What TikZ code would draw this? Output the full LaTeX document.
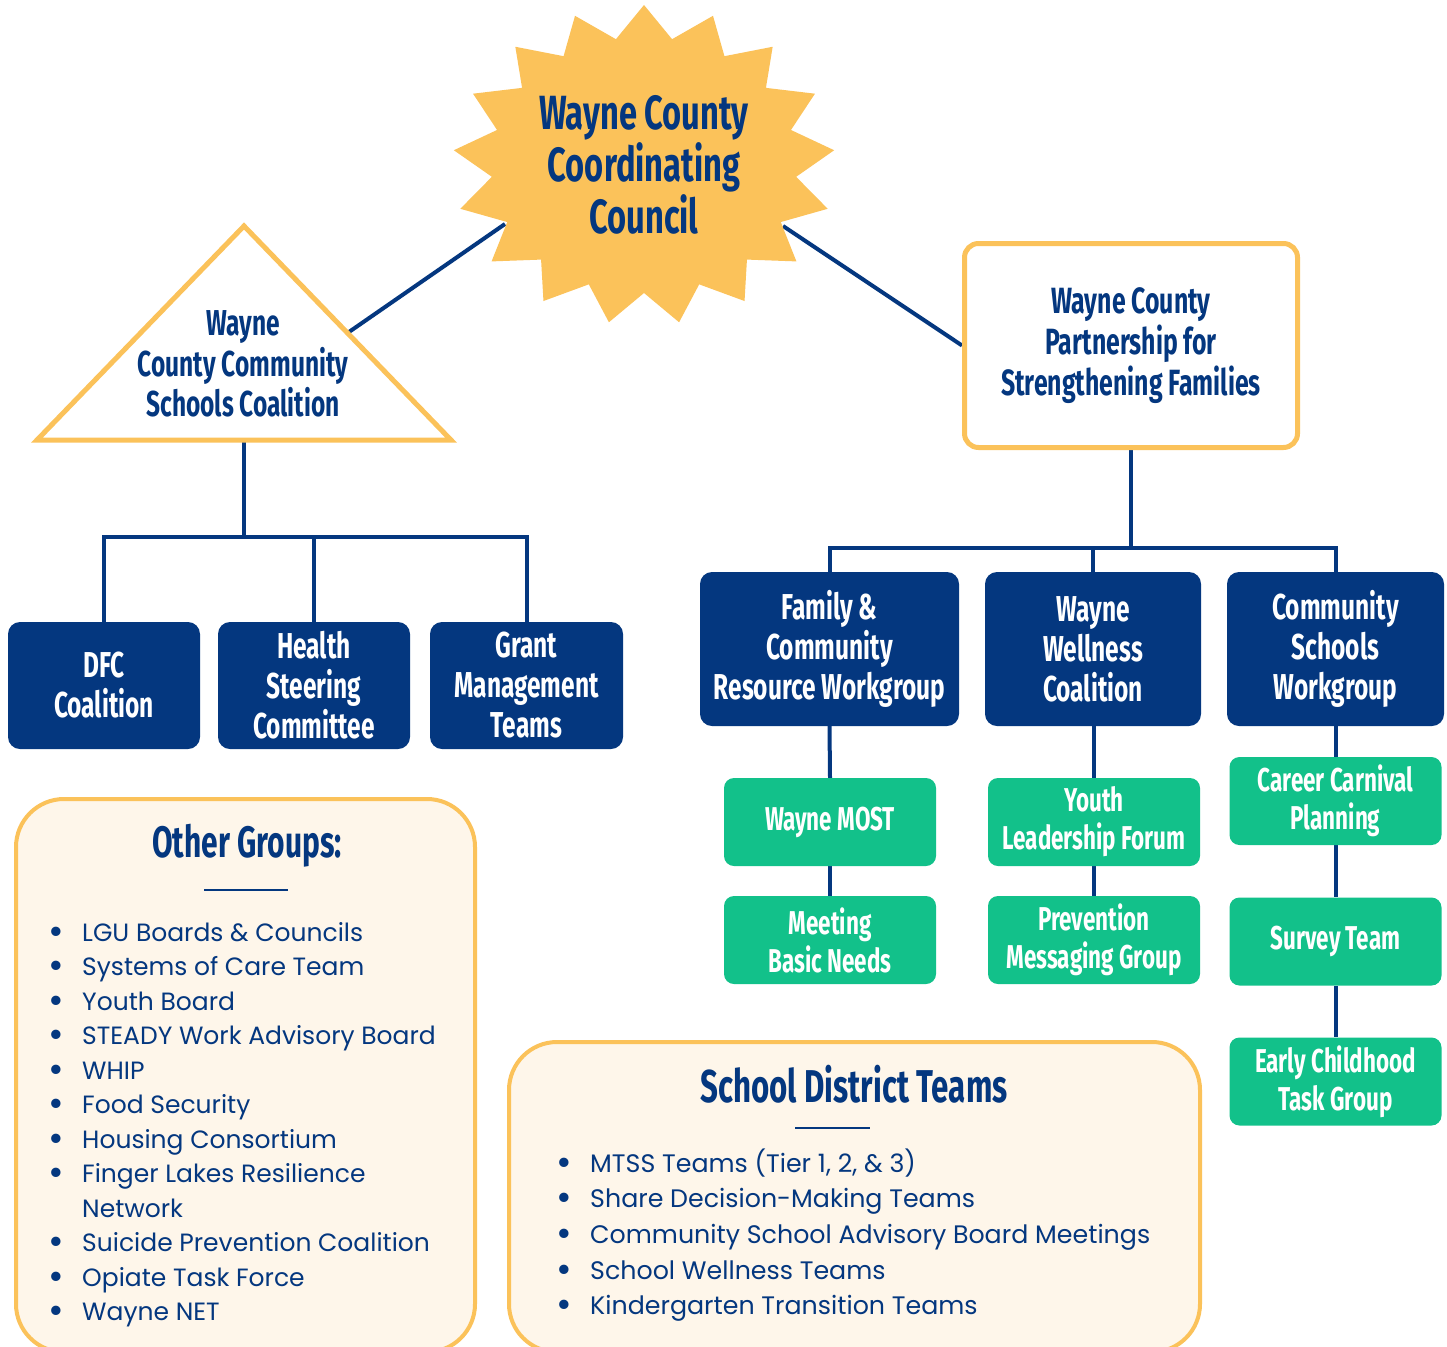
\documentclass[tikz,border=0pt]{standalone}
\usepackage{fontspec}
\setmainfont{Poppins}
\newfontfamily\headfont{Fira Sans}[FakeStretch=0.68]
\usetikzlibrary{calc,backgrounds}
\definecolor{navy}{HTML}{04377F}
\definecolor{mint}{HTML}{12C18A}
\definecolor{gold}{HTML}{FBC25A}
\definecolor{cream}{HTML}{FEF6EA}
\newcommand{\listdot}{\raisebox{-3pt}{\fontsize{38}{38}\selectfont •}}

\begin{document}
\begin{tikzpicture}[x=1pt,y=-1pt,
  conn/.style={draw=navy,line width=4pt},
  headtext/.style={text=navy,align=center,inner sep=0pt,font=\headfont\bfseries\fontsize{36}{40.5}\selectfont},
  navybox/.style={fill=navy,text=white,rounded corners=12pt,inner sep=0pt,minimum height=127pt,align=center,font=\headfont\bfseries\fontsize{36}{40}\selectfont},
  greenbox/.style={fill=mint,text=white,rounded corners=10pt,inner sep=0pt,minimum width=212pt,minimum height=88pt,align=center,font=\headfont\bfseries\fontsize{33}{38}\selectfont},
  goldbox/.style={draw=gold,line width=5pt,fill=white,rounded corners=14pt,inner sep=0pt,text=navy,align=center,font=\headfont\bfseries\fontsize{36.5}{41}\selectfont},
  listbox/.style={draw=gold,line width=4pt,fill=cream,rounded corners=48pt,inner sep=0pt},
  listtitle/.style={text=navy,inner sep=0pt,font=\headfont\bfseries\fontsize{44}{48}\selectfont},
  listtext/.style={text=navy,inner sep=0pt,align=left,font=\fontsize{25}{34.5}\selectfont},
]
\useasboundingbox (0,0) rectangle (1447,1346);

% council star
\coordinate (wccc) at (644,165);
\fill[gold,shift={(wccc)}] (-90:191 and 160)
  \foreach \i [evaluate=\i as \k using {1-0.2*mod(\i,2)}] in {1,...,33} { -- (-90+\i*360/34:{191*\k} and {160*\k}) } -- cycle;
\node[headtext,font=\headfont\bfseries\fontsize{48}{52}\selectfont] (wcccT) at (wccc) {Wayne County\\Coordinating\\Council};
\coordinate (wcccL) at (505,224);
\coordinate (wcccR) at (783,226);

% coalition triangle
\coordinate (triA) at (244,226);
\coordinate (triL) at (37,440);
\coordinate (triR) at (451,440);
\draw[gold,line width=5pt,fill=white] (triA) -- (triL) -- (triR) -- cycle;
\coordinate (triM) at ($(triA)!0.5!(triR)$);
\coordinate (triB) at ($(triL)!0.5!(triR)$);
\node[headtext] (wccsc) at (243,364) {Wayne\\County Community\\Schools Coalition};

\node[goldbox,minimum width=333pt,minimum height=204pt] (wcpsf) at (1131,345.5) {Wayne County\\Partnership for\\Strengthening Families};

% left branch
\node[navybox,minimum width=192pt] (dfc) at (104,685.5) {DFC\\Coalition};
\node[navybox,minimum width=192pt] (hsc) at (314,685.5) {Health\\Steering\\Committee};
\node[navybox,minimum width=193pt] (gmt) at (526.5,685.5) {Grant\\Management\\Teams};

% right branch
\node[navybox,minimum width=259pt,minimum height=154pt] (fcrw) at (829.5,649) {Family \&\\Community\\Resource Workgroup};
\node[navybox,minimum width=216pt,minimum height=154pt] (wwc) at (1093,649) {Wayne\\Wellness\\Coalition};
\node[navybox,minimum width=217pt,minimum height=154pt] (csw) at (1335.5,649) {Community\\Schools\\Workgroup};

\node[greenbox] (most) at (830,822) {Wayne MOST};
\node[greenbox] (mbn) at (830,940) {Meeting\\Basic Needs};
\node[greenbox] (ylf) at (1094,822) {Youth\\Leadership Forum};
\node[greenbox] (pmg) at (1094,940) {Prevention\\Messaging Group};
\node[greenbox] (ccp) at (1335.5,801) {Career Carnival\\Planning};
\node[greenbox] (svt) at (1335.5,941.5) {Survey Team};
\node[greenbox] (ectg) at (1335.5,1081.5) {Early Childhood\\Task Group};

% other groups
\node[listbox,minimum width=459pt,minimum height=553pt] (ogbox) at (245.5,1075.5) {};
\node[listtitle] (ogtitle) at (247,846) {Other Groups:};
\draw[navy,line width=2pt] (204,890) -- (288,890);
\node[listtext,anchor=base west] (oglist) at (48,941) {\begin{tabular}[t]{@{}p{34pt}@{}l@{}}
\listdot & LGU Boards \& Councils\\
\listdot & Systems of Care Team\\
\listdot & Youth Board\\
\listdot & STEADY Work Advisory Board\\
\listdot & WHIP\\
\listdot & Food Security\\
\listdot & Housing Consortium\\
\listdot & Finger Lakes Resilience\\
  & Network\\
\listdot & Suicide Prevention Coalition\\
\listdot & Opiate Task Force\\
\listdot & Wayne NET
\end{tabular}};

% school district teams
\node[listbox,minimum width=691pt,minimum height=310pt] (sdbox) at (854.5,1197) {};
\node[listtitle,font=\headfont\bfseries\fontsize{46}{50}\selectfont] (sdtitle) at (854,1084) {School District Teams};
\draw[navy,line width=2pt] (795,1128) -- (870,1128);
\node[listtext,anchor=base west,font=\fontsize{25.3}{35.7}\selectfont] (sdlist) at (556,1172) {\begin{tabular}[t]{@{}p{34pt}@{}l@{}}
\listdot & MTSS Teams (Tier 1, 2, \& 3)\\
\listdot & Share Decision-Making Teams\\
\listdot & Community School Advisory Board Meetings\\
\listdot & School Wellness Teams\\
\listdot & Kindergarten Transition Teams
\end{tabular}};

\begin{scope}[on background layer]
\draw[conn] (wcccL) -- (triM);
\draw[conn] (wcccR) -- (wcpsf.west);
\coordinate (lhub) at (244,537);
\draw[conn] (triB) -- (lhub);
\draw[conn] (dfc.north) |- (lhub) -| (gmt.north);
\draw[conn] (hsc.north) -- (hsc.north |- lhub);
\coordinate (rhub) at (1131,548);
\draw[conn] (wcpsf.south) -- (rhub);
\draw[conn] (fcrw.north) |- (rhub) -| (csw.north);
\draw[conn] (wwc.north) -- (wwc.north |- rhub);
\draw[conn] (fcrw.south) -- (most.north);
\draw[conn] (most.south) -- (mbn.north);
\draw[conn] (wwc.south -| ylf.north) -- (ylf.north);
\draw[conn] (ylf.south) -- (pmg.north);
\draw[conn] (csw.south) -- (ccp.north);
\draw[conn] (ccp.south) -- (svt.north);
\draw[conn] (svt.south) -- (ectg.north);
\end{scope}
\end{tikzpicture}
\end{document}
